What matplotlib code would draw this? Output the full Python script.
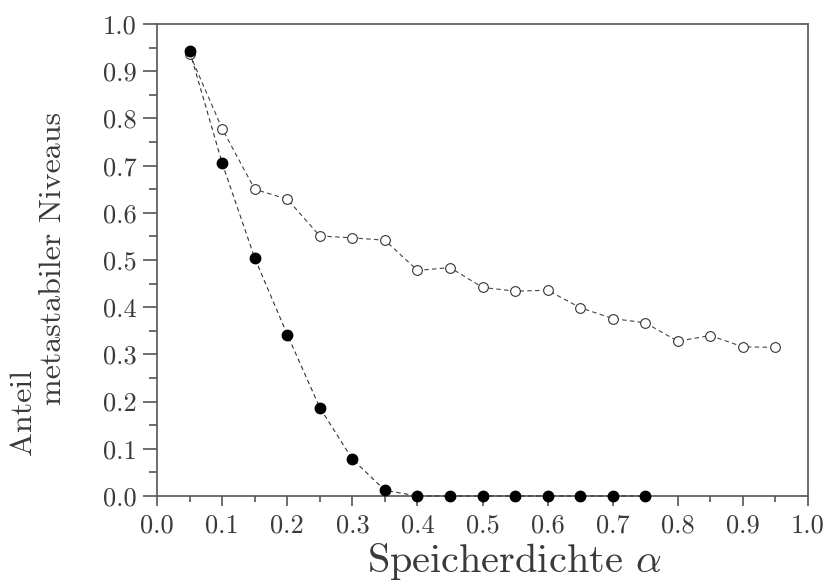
import numpy as np
import matplotlib.pyplot as plt
from matplotlib.ticker import MultipleLocator, FormatStrFormatter

# Speicherdichte alpha
alpha_open = [0.05, 0.10, 0.15, 0.20, 0.25, 0.30, 0.35, 0.40, 0.45, 0.50,
              0.55, 0.60, 0.65, 0.70, 0.75, 0.80, 0.85, 0.90, 0.95]
anteil_open = [0.937, 0.778, 0.650, 0.629, 0.551, 0.547, 0.542, 0.478, 0.484, 0.442,
               0.434, 0.436, 0.399, 0.376, 0.367, 0.328, 0.340, 0.316, 0.315]

alpha_filled = [0.05, 0.10, 0.15, 0.20, 0.25, 0.30, 0.35, 0.40, 0.45, 0.50,
                0.55, 0.60, 0.65, 0.70, 0.75]
anteil_filled = [0.943, 0.705, 0.504, 0.342, 0.187, 0.078, 0.012, 0.0, 0.0, 0.0,
                 0.0, 0.0, 0.0, 0.0, 0.0]

plt.rcParams["font.family"] = ["cmr10", "DejaVu Serif"]
plt.rcParams["mathtext.fontset"] = "cm"
plt.rcParams["axes.formatter.use_mathtext"] = True

spine_col = "#555555"
text_col = "#3a3a3a"

fig = plt.figure(figsize=(8.27, 5.88), dpi=100)
ax = fig.add_axes([0.19, 0.1565, 0.787, 0.8025])

ax.plot(alpha_open, anteil_open, linestyle="--", color="#444444", linewidth=0.8,
        dashes=(4, 3), marker="o", markersize=7, markerfacecolor="white",
        markeredgecolor="#333333", markeredgewidth=0.8, zorder=2)
ax.plot(alpha_filled, anteil_filled, linestyle="--", color="#333333", linewidth=0.8,
        dashes=(4, 3), marker="o", markersize=7.5, markerfacecolor="black",
        markeredgecolor="black", zorder=3, clip_on=False)

ax.set_xlim(0, 1)
ax.set_ylim(0, 1)
ax.xaxis.set_major_locator(MultipleLocator(0.1))
ax.xaxis.set_minor_locator(MultipleLocator(0.05))
ax.yaxis.set_major_locator(MultipleLocator(0.1))
ax.yaxis.set_minor_locator(MultipleLocator(0.05))
ax.xaxis.set_major_formatter(FormatStrFormatter("%.1f"))
ax.yaxis.set_major_formatter(FormatStrFormatter("%.1f"))

for s in ax.spines.values():
    s.set_color(spine_col)
    s.set_linewidth(1.2)

ax.tick_params(axis="y", which="major", length=10, width=1.2, color=spine_col, pad=5)
ax.tick_params(axis="y", which="minor", length=6, width=1.2, color=spine_col)
ax.tick_params(axis="x", which="major", length=7, width=1.2, color=spine_col, pad=6)
ax.tick_params(axis="x", which="minor", length=4, width=1.2, color=spine_col)
for lab in ax.get_xticklabels() + ax.get_yticklabels():
    lab.set_fontsize(19)
    lab.set_color(text_col)

fig.text(0.622, 1 - 561 / 588, r"Speicherdichte $\alpha$", fontsize=29,
         color=text_col, ha="center", va="center")
fig.text(23 / 827, 1 - 412 / 588, "Anteil", fontsize=23,
         color=text_col, rotation=90, ha="center", va="center")
fig.text(53 / 827, 1 - 258 / 588, "metastabiler Niveaus", fontsize=23,
         color=text_col, rotation=90, ha="center", va="center")

fig.savefig("out.png", dpi=100)
